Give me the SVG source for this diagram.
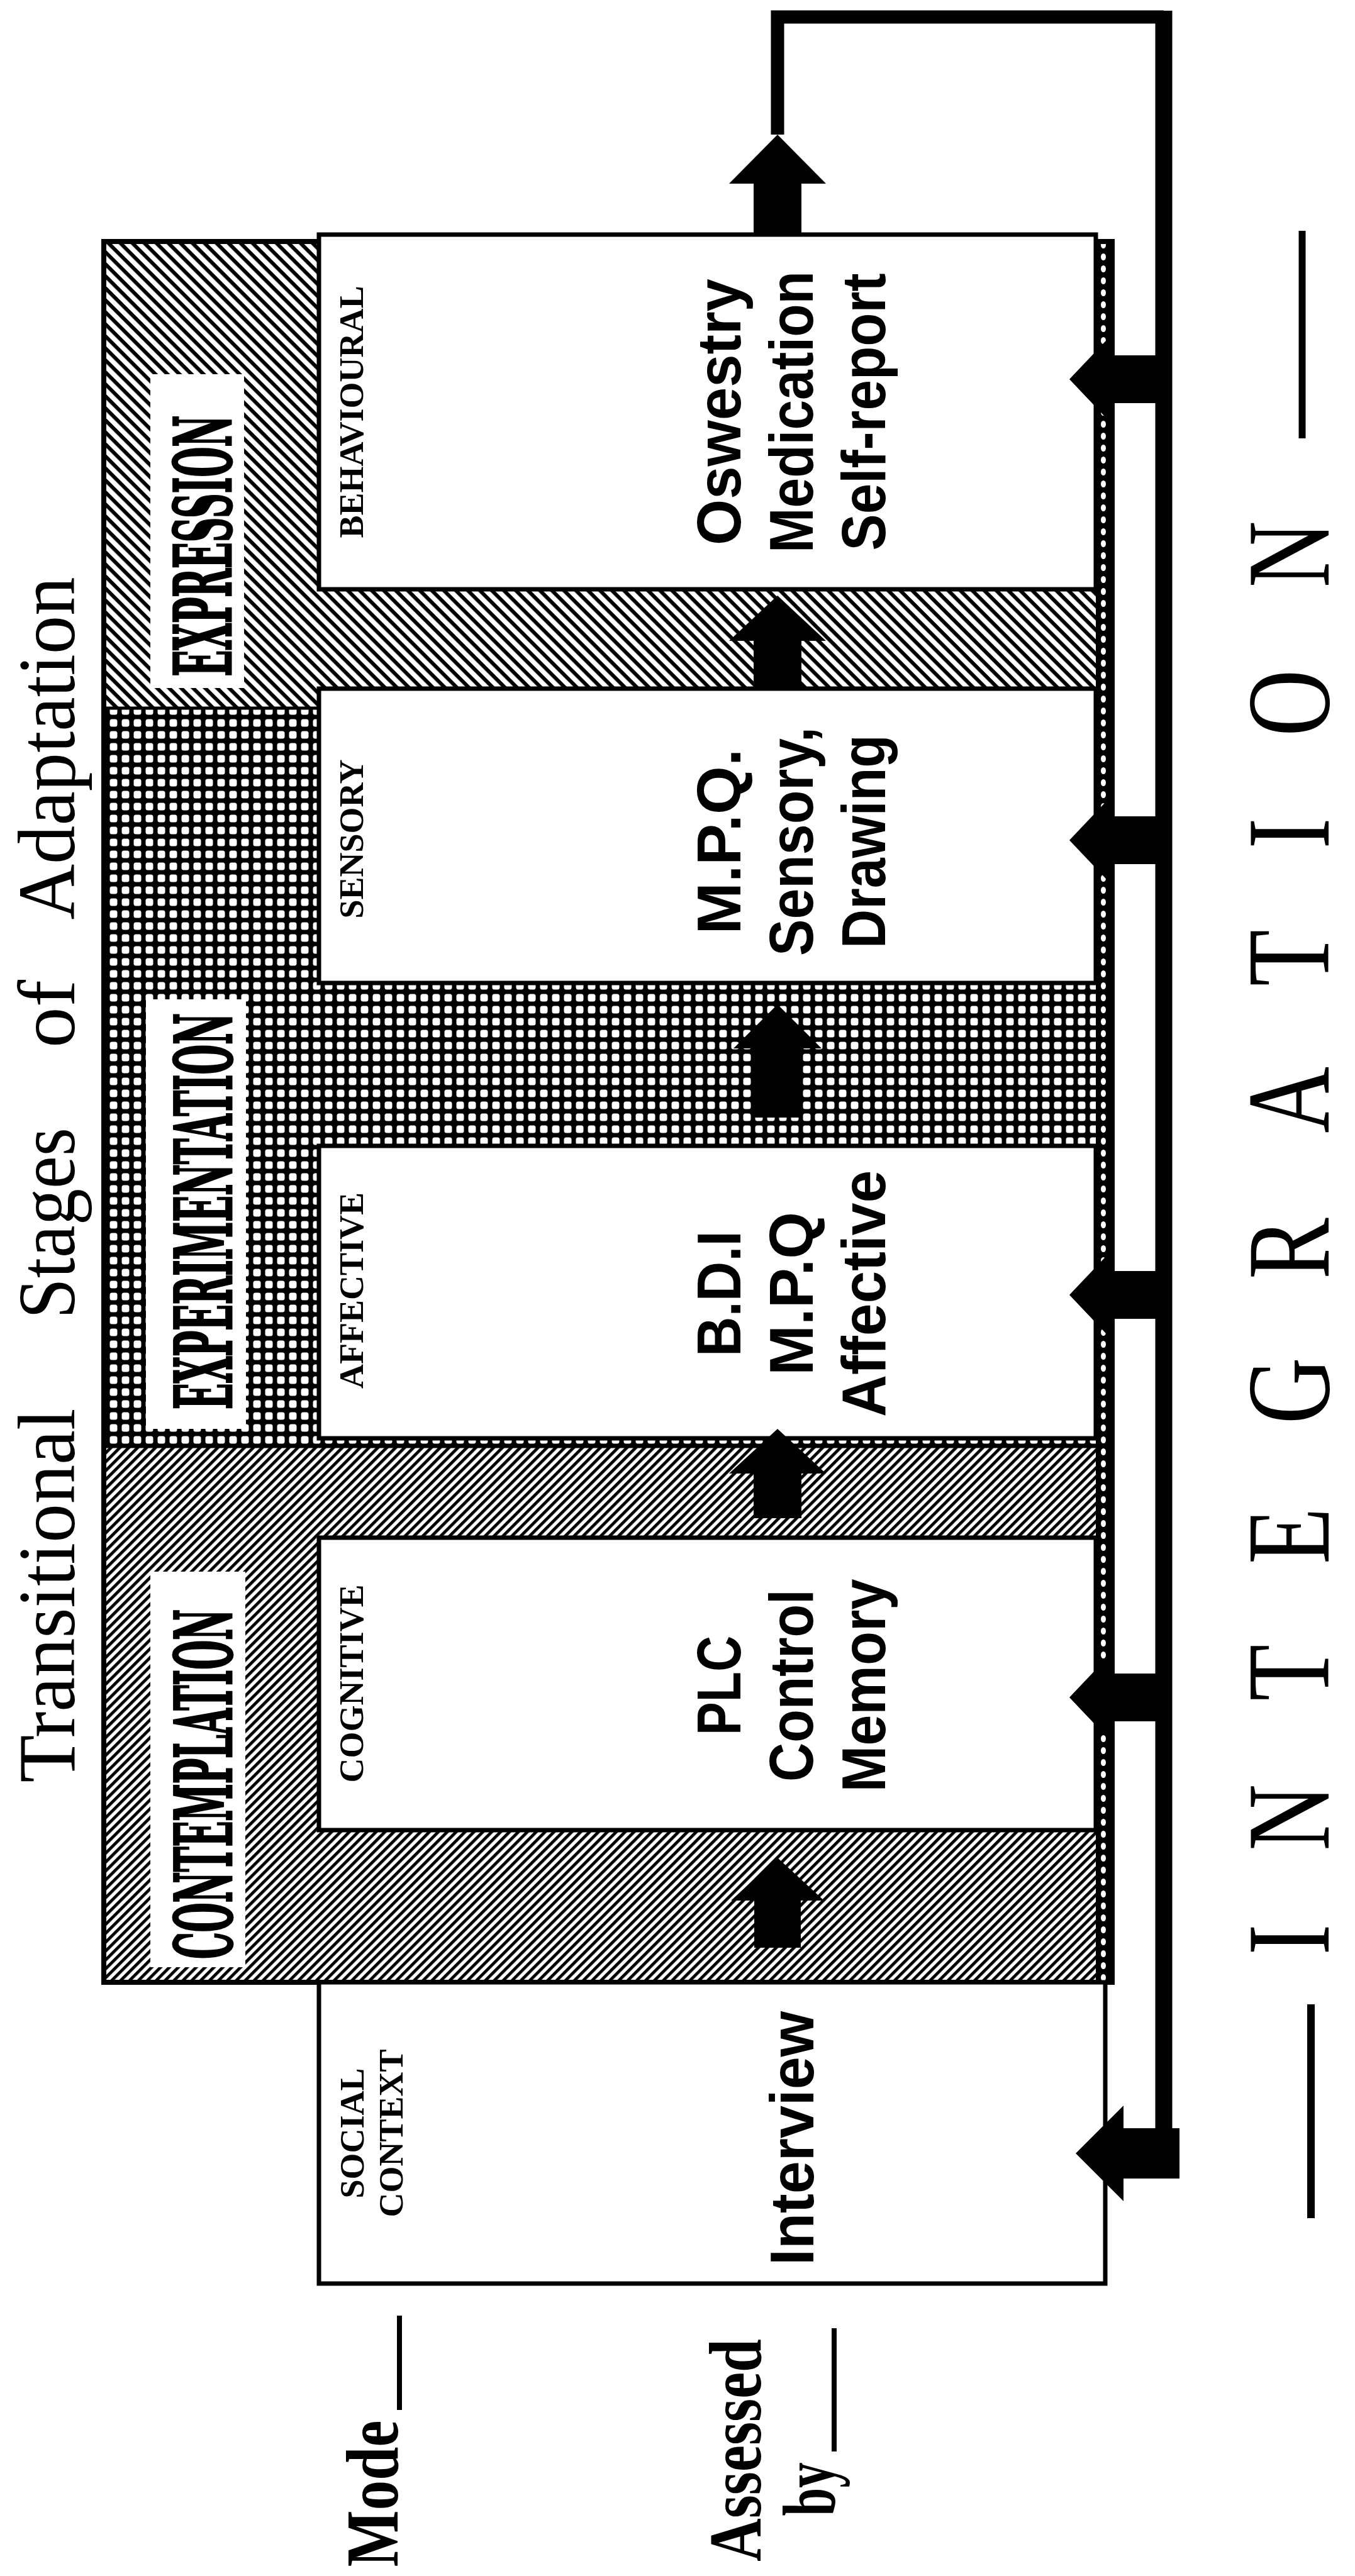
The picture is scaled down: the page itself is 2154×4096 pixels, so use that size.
<svg xmlns="http://www.w3.org/2000/svg" width="2154" height="4096" viewBox="0 0 2154 4096">
<defs>
<pattern id="hatchE" patternUnits="userSpaceOnUse" width="13.5" height="13.5" patternTransform="rotate(45)">
<rect width="13.5" height="13.5" fill="#fff"/><rect width="13.5" height="6" fill="#000"/>
</pattern>
<pattern id="hatchC" patternUnits="userSpaceOnUse" width="10" height="10" patternTransform="rotate(-45)">
<rect width="10" height="10" fill="#fff"/><rect width="10" height="4.8" fill="#000"/>
</pattern>
<pattern id="cross" patternUnits="userSpaceOnUse" width="19" height="19">
<rect width="19" height="19" fill="#000"/><rect x="3.5" y="3.5" width="12" height="12" rx="3.5" fill="#fff"/>
</pattern>
<pattern id="chain" patternUnits="userSpaceOnUse" x="1742" y="0" width="26" height="19">
<rect width="26" height="19" fill="#000"/><ellipse cx="12" cy="9.5" rx="4" ry="5.5" fill="#fff"/>
</pattern>
<style>
.box{fill:#fff;stroke:#000;stroke-width:7}
.lbl{fill:#fff}
.stage{font-family:'DejaVu Serif Condensed','DejaVu Serif','Liberation Serif',serif;font-weight:bold;font-size:125px;stroke:#000;stroke-width:3;text-anchor:middle}
.mode{font-family:'Liberation Serif','DejaVu Serif',serif;font-weight:bold;font-size:54px;text-anchor:middle}
.main{font-family:'Liberation Sans',Arial,sans-serif;font-weight:bold;font-size:99px;text-anchor:middle}
.title{font-family:'Liberation Serif','Times New Roman',serif;font-size:130px;text-anchor:middle}
.foot{font-family:'Liberation Serif','Times New Roman',serif;font-weight:bold;font-size:118px;text-anchor:middle}
.arrow{fill:#000}
</style>
</defs>
<rect width="2154" height="4096" fill="#fff"/>

<g id="title">
<text class="title" transform="translate(118,2537) rotate(-90)" textLength="595" lengthAdjust="spacingAndGlyphs">Transitional</text>
<text class="title" transform="translate(118,1945) rotate(-90)" textLength="304" lengthAdjust="spacingAndGlyphs">Stages</text>
<text class="title" transform="translate(118,1612) rotate(-90)" textLength="108" lengthAdjust="spacingAndGlyphs">of</text>
<text class="title" transform="translate(118,1190) rotate(-90)" textLength="545" lengthAdjust="spacingAndGlyphs">Adaptation</text>
</g>

<g id="stages-frame">
<rect x="165" y="384" width="1603" height="742" fill="url(#hatchE)"/>
<rect x="165" y="1126" width="1603" height="1174" fill="url(#cross)"/>
<rect x="165" y="2300" width="1603" height="852" fill="url(#hatchC)"/>
<line x1="165" y1="1126" x2="1768" y2="1126" stroke="#000" stroke-width="5"/>
<line x1="165" y1="2300" x2="1768" y2="2300" stroke="#000" stroke-width="5"/>
<rect x="165" y="384" width="1603" height="2768" fill="none" stroke="#000" stroke-width="8"/>
<rect x="1742" y="388" width="26" height="2764" fill="url(#chain)"/>
</g>

<g id="expression">
<rect class="lbl" x="239" y="595" width="149" height="499"/>
<text class="stage" transform="translate(367,868) rotate(-90)" textLength="415" lengthAdjust="spacingAndGlyphs">EXPRESSION</text>
</g>
<g id="experimentation">
<rect class="lbl" x="232" y="1589" width="159" height="683"/>
<text class="stage" transform="translate(368,1926) rotate(-90)" textLength="630" lengthAdjust="spacingAndGlyphs">EXPERIMENTATION</text>
</g>
<g id="contemplation">
<rect class="lbl" x="239" y="2499" width="151" height="629"/>
<text class="stage" transform="translate(368,2837) rotate(-90)" textLength="556" lengthAdjust="spacingAndGlyphs">CONTEMPLATION</text>
</g>

<g id="behavioural">
<rect class="box" x="507" y="373" width="1235" height="564"/>
<text class="mode" transform="translate(577,655) rotate(-90)">BEHAVIOURAL</text>
<text class="main" transform="translate(1177,655) rotate(-90)" textLength="424" lengthAdjust="spacingAndGlyphs">Oswestry</text>
<text class="main" transform="translate(1292,655) rotate(-90)" textLength="448" lengthAdjust="spacingAndGlyphs">Medication</text>
<text class="main" transform="translate(1407,655) rotate(-90)" textLength="441" lengthAdjust="spacingAndGlyphs">Self-report</text>
</g>
<g id="sensory">
<rect class="box" x="507" y="1095" width="1235" height="468"/>
<text class="mode" transform="translate(577,1334) rotate(-90)">SENSORY</text>
<text class="main" transform="translate(1177,1338) rotate(-90)" textLength="295" lengthAdjust="spacingAndGlyphs">M.P.Q.</text>
<text class="main" transform="translate(1292,1338) rotate(-90)" textLength="364" lengthAdjust="spacingAndGlyphs">Sensory,</text>
<text class="main" transform="translate(1407,1338) rotate(-90)" textLength="340" lengthAdjust="spacingAndGlyphs">Drawing</text>
</g>
<g id="affective">
<rect class="box" x="507" y="1822" width="1235" height="465"/>
<text class="mode" transform="translate(577,2052) rotate(-90)">AFFECTIVE</text>
<text class="main" transform="translate(1177,2057) rotate(-90)" textLength="200" lengthAdjust="spacingAndGlyphs">B.D.I</text>
<text class="main" transform="translate(1292,2057) rotate(-90)" textLength="260" lengthAdjust="spacingAndGlyphs">M.P.Q</text>
<text class="main" transform="translate(1407,2057) rotate(-90)" textLength="392" lengthAdjust="spacingAndGlyphs">Affective</text>
</g>
<g id="cognitive">
<rect class="box" x="507" y="2445" width="1235" height="465"/>
<text class="mode" transform="translate(577,2677) rotate(-90)">COGNITIVE</text>
<text class="main" transform="translate(1177,2680) rotate(-90)" textLength="158" lengthAdjust="spacingAndGlyphs">PLC</text>
<text class="main" transform="translate(1292,2680) rotate(-90)" textLength="306" lengthAdjust="spacingAndGlyphs">Control</text>
<text class="main" transform="translate(1407,2680) rotate(-90)" textLength="339" lengthAdjust="spacingAndGlyphs">Memory</text>
</g>
<g id="social-context">
<rect class="box" x="507" y="3152" width="1250" height="479"/>
<text class="mode" transform="translate(578,3392) rotate(-90)">SOCIAL</text>
<text class="mode" transform="translate(640,3392) rotate(-90)">CONTEXT</text>
<text class="main" transform="translate(1293,3400) rotate(-90)" textLength="404" lengthAdjust="spacingAndGlyphs">Interview</text>
</g>

<g id="connectors">
<path d="M1236,214 V27 H1850" fill="none" stroke="#000" stroke-width="21"/>
<line x1="1850" y1="17" x2="1850" y2="3462" stroke="#000" stroke-width="27"/>
<polygon class="arrow" points="1236,214 1313,292 1274,292 1274,373 1198,373 1198,292 1159,292"/>
<polygon class="arrow" points="1236,947 1313,1019 1274,1019 1274,1095 1198,1095 1198,1019 1159,1019"/>
<polygon class="arrow" points="1236,1597 1306,1667 1272,1667 1272,1777 1200,1777 1200,1667 1166,1667"/>
<polygon class="arrow" points="1236,2272 1313,2343 1274,2343 1274,2414 1198,2414 1198,2343 1159,2343"/>
<polygon class="arrow" points="1236,2954 1310,3022 1273,3022 1273,3097 1199,3097 1199,3022 1162,3022"/>
<polygon class="arrow" points="1700,603 1772,527 1772,565 1852,565 1852,641 1772,641 1772,679"/>
<polygon class="arrow" points="1700,1336 1772,1260 1772,1298 1852,1298 1852,1374 1772,1374 1772,1412"/>
<polygon class="arrow" points="1700,2059 1772,1983 1772,2021 1852,2021 1852,2097 1772,2097 1772,2135"/>
<polygon class="arrow" points="1700,2699 1772,2623 1772,2661 1852,2661 1852,2737 1772,2737 1772,2775"/>
<polygon class="arrow" points="1710,3424 1786,3348 1786,3384 1875,3384 1875,3464 1786,3464 1786,3500"/>
</g>

<g id="integration">
<line x1="2070" y1="367" x2="2070" y2="697" stroke="#000" stroke-width="11"/>
<line x1="2084" y1="3187" x2="2084" y2="3527" stroke="#000" stroke-width="12"/>
<text transform="translate(2112,0) rotate(-90) scale(0.78,1)" font-family="'Liberation Serif','Times New Roman',serif" font-size="188" text-anchor="middle" x="-3954 -3705 -3410 -3131 -2835 -2545 -2242 -1953 -1699 -1433 -1130" y="0">INTEGRATION</text>
</g>

<g id="legend">
<text class="foot" transform="translate(632,3965) rotate(-90)" textLength="233" lengthAdjust="spacingAndGlyphs">Mode</text>
<line x1="635" y1="3682" x2="635" y2="3832" stroke="#000" stroke-width="8"/>
<text class="foot" transform="translate(1209,3896) rotate(-90)" textLength="354" lengthAdjust="spacingAndGlyphs">Assessed</text>
<text class="foot" transform="translate(1326,3958) rotate(-90)" textLength="85" lengthAdjust="spacingAndGlyphs">by</text>
<line x1="1326" y1="3702" x2="1326" y2="3898" stroke="#000" stroke-width="8"/>
</g>
</svg>
